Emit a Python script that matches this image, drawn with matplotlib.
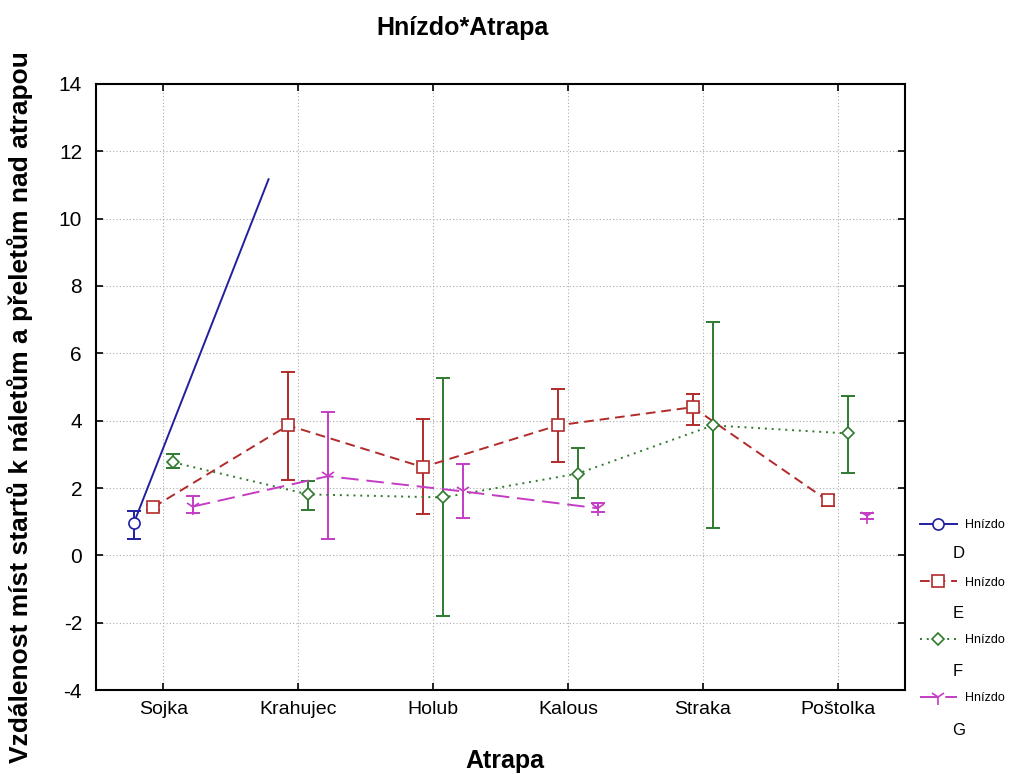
import numpy as np
import matplotlib.pyplot as plt

categories = ["Sojka", "Krahujec", "Holub", "Kalous", "Straka", "Poštolka"]
nests = ["D", "E", "F", "G"]

nan = np.nan
# means and confidence limits (lo, hi) per nest
d_mean = [0.95, 11.17, nan, nan, nan, nan]
d_lo = [0.50, nan, nan, nan, nan, nan]
d_hi = [1.31, nan, nan, nan, nan, nan]

e_mean = [1.43, 3.86, 2.62, 3.86, 4.40, 1.63]
e_lo = [1.35, 2.23, 1.24, 2.76, 3.86, 1.48]
e_hi = [1.50, 5.44, 4.04, 4.93, 4.78, 1.78]

f_mean = [2.76, 1.81, 1.72, 2.43, 3.86, 3.62]
f_lo = [2.58, 1.34, -1.81, 1.69, 0.80, 2.46]
f_hi = [3.00, 2.20, 5.28, 3.18, 6.92, 4.72]

g_mean = [1.45, 2.35, 1.90, 1.40, nan, 1.16]
g_lo = [1.25, 0.50, 1.10, 1.28, nan, 1.08]
g_hi = [1.75, 4.25, 2.70, 1.55, nan, 1.25]

means = [d_mean, e_mean, f_mean, g_mean]
lows = [d_lo, e_lo, f_lo, g_lo]
highs = [d_hi, e_hi, f_hi, g_hi]

colors = ["#2020a0", "#b22a2a", "#2f7a2f", "#c43cc4"]
markers = ["o", "s", "D", "1"]
styles = ["-", (0, (5, 3)), (0, (1, 2.5)), (0, (9, 4))]
offsets = [-0.22, -0.075, 0.075, 0.22]

plt.rcParams['font.family'] = ['Liberation Sans', 'DejaVu Sans']
plt.rcParams['axes.unicode_minus'] = False

fig = plt.figure(figsize=(10.23, 7.74), dpi=100)
ax = fig.add_axes([0.0938, 0.1085, 0.7909, 0.783])

x = np.arange(len(categories))
handles = []
for i, nest in enumerate(nests):
    xs = x + offsets[i]
    m = np.array(means[i], dtype=float)
    lo = np.array(lows[i], dtype=float)
    hi = np.array(highs[i], dtype=float)
    ax.errorbar(xs, m, yerr=[m - lo, hi - m], fmt='none', ecolor=colors[i],
                elinewidth=1.4, capsize=5, capthick=1.4, zorder=2)
    mk = markers[i]
    msize = {"o": 8, "s": 8, "D": 6.5, "1": 11}[mk]
    markevery = [0] if nest == "D" else None
    h, = ax.plot(xs, m, color=colors[i], linestyle=styles[i], linewidth=1.4,
                 marker=mk, markersize=msize,
                 markerfacecolor='white', markeredgecolor=colors[i],
                 markeredgewidth=1.2, markevery=markevery, zorder=3)
    handles.append(h)

ax.set_xlim(-0.5, 5.5)
ax.set_ylim(-4, 14)
ax.set_yticks(np.arange(-4, 15, 2))
ax.set_xticks(x)
ax.set_xticklabels(categories, fontsize=14)
ax.tick_params(axis='y', labelsize=15, pad=10)
ax.tick_params(axis='x', pad=8)
ax.tick_params(direction='in', length=5, width=1.2, top=True, right=True)
ax.grid(True, linestyle=(0, (1, 2)), color='#aaaaaa', linewidth=0.8)
for sp in ax.spines.values():
    sp.set_linewidth(1.5)

fig.text(0.452, 0.964, "Hnízdo*Atrapa", ha='center', va='center',
         fontsize=18, fontweight='bold')
fig.text(0.494, 0.017, "Atrapa", ha='center', va='center',
         fontsize=18, fontweight='bold')
fig.text(0.02, 0.474, "Vzdálenost míst startů k náletům a přeletům nad atrapou",
         rotation=90, ha='center', va='center', fontsize=19, fontweight='bold')

leg = fig.legend(handles, ["Hnízdo"] * 4, loc='upper left',
                 bbox_to_anchor=(0.888, 0.344), frameon=False, fontsize=9,
                 labelspacing=3.66, handlelength=3.0, handletextpad=0.6)
letter_y = [0.285, 0.207, 0.132, 0.056]
for nest, yy in zip(nests, letter_y):
    fig.text(0.931, yy, nest, fontsize=12, va='center')

fig.savefig("out.png", dpi=100)
